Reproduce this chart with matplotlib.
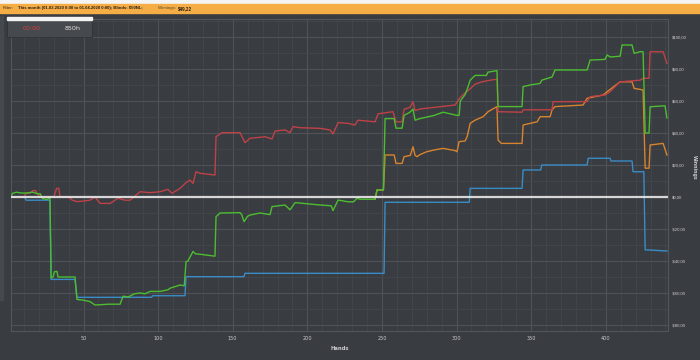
import matplotlib
matplotlib.use("Agg")
import matplotlib.pyplot as plt
from matplotlib.patches import Rectangle
from matplotlib.ticker import MultipleLocator

W, H = 700, 360

# net won (green)
green_hands = [1, 2.5, 5, 8, 12, 16, 19, 21, 22.5, 25.5, 26.5, 27.5, 28.3, 29.6, 30.5, 32.2, 32.9,
               44.3, 45.6, 50, 54.4, 57.7, 67, 74.5, 76.5, 80, 84, 87.9, 91.2, 94.6, 101.3, 106.6,
               108, 114.7, 117.5, 118.7, 120, 123.4, 125, 130, 138.1, 138.8, 141.5, 154.9, 156,
               157.6, 160, 161.6, 168.3, 175, 176.3, 185, 188.4, 191.8, 208.5, 216, 217.2, 220.6,
               227.3, 231, 233.3, 235.3, 245.4, 246.7, 251, 252.1, 258.2, 259.4, 263.5, 264.8,
               268.8, 270.8, 272.2, 275.5, 285, 291, 300.3, 301.7, 302.5, 305.7, 307, 309.1, 312.4,
               320, 321, 327.1, 327.8, 343.9, 344.6, 349.3, 356, 357.1, 364, 366, 387.5, 389.5,
               399.5, 400.9, 403, 409.6, 410.9, 417.6, 419, 423, 425, 426.4, 429, 429.7, 439.7, 441]
green_vals = [0, 2.3, 3, 2.5, 2.5, 3, 2, 2, -1, -1.5, -1, 0, -50.6, -50, -46.7, -46.5, -50,
              -50, -64, -64.5, -65.4, -67.5, -67, -67, -62, -62.5, -60.5, -60, -60.5, -59, -59, -58,
              -57, -55, -55.5, -40.4, -40, -34, -35.5, -36, -37, -12.3, -10, -9.8, -11,
              -15.4, -12, -11.3, -10, -11, -6, -5, -8, -3.5, -5, -5.5, -8.5, -1.9,
              -3, -3, -0.8, -1.4, -1.4, 4.4, 4.4, 49, 49, 43, 43, 51,
              53, 55, 48, 49, 51, 53, 51, 51, 60, 64, 67, 73, 76,
              76, 78, 79, 56.5, 56.5, 69, 70, 71, 73, 75, 79.4, 79.4, 85.6,
              86, 88.75, 87.5, 88, 95, 95, 89.8, 90.8, 90.8, 40, 40, 56.4, 57, 49.4]

# non-showdown (red)
red_hands = [1, 10, 11.5, 14, 16.2, 18, 18.8, 20.8, 30, 32, 33.5, 34.2, 40, 42.3, 45.6, 50, 54.4,
             57.7, 61.1, 67.8, 73.1, 77.8, 81.2, 87.9, 94.6, 101.3, 106.6, 109.3, 114.7, 118.7,
             121.4, 123.4, 125.4, 128.1, 138.1, 138.8, 142.8, 154.9, 158.2, 161.6, 168.3, 171.6,
             176.3, 178.4, 185, 188.4, 190.4, 195.1, 208.5, 215.2, 217.2, 220.6, 227.3, 231.9,
             233.9, 245.4, 247.4, 257.4, 259.4, 263.5, 264.8, 268.8, 270.8, 272.2, 275.5, 299,
             302.3, 305.7, 309.1, 312.4, 317.1, 322.5, 327.1, 327.8, 343.9, 344.6, 364, 364.7,
             387.5, 389.5, 399.5, 402.9, 409.6, 423, 425, 429, 429.7, 438.4, 441]
red_vals = [0, 0, 2.3, 2.5, 4, 4, 2.5, 0, 0, 5.4, 5.4, 0, 0, -1.9, -2.9, -2.5, -2,
            0, -4, -4, -0.8, -2, -2, 3.3, 2.7, 3.3, 4.8, 2.3, 5.4, 9,
            10.6, 8.5, 15.8, 14.8, 13.75, 37.7, 40.2, 40.2, 34, 36.7, 37.3, 37.7,
            36.25, 41.25, 41.9, 40.2, 44, 43.3, 42.9, 41.9, 39.4, 46.5, 46, 45,
            48, 47, 52, 53.3, 47, 47, 54.8, 56, 59.5, 54, 55, 57.5,
            62, 65, 67.6, 70.5, 72, 73, 73.6, 53.3, 53, 54.5, 54.5, 59.6,
            59.6, 62.7, 63.75, 65.8, 72, 73, 74.2, 74.2, 90.8, 90.8, 83.5]

# all-in adjusted (orange), hidden under green before hand 245
orange_hands = [245.4, 246.7, 251, 252.1, 258.2, 259.4, 263.5, 264.8, 269, 270.8, 272.2, 273.5,
                275.5, 280, 285, 291, 299, 300.3, 301.7, 305.7, 307.1, 309.1, 312.4, 317.8, 321.1,
                327.1, 327.8, 330, 343.9, 344.6, 349.3, 354, 356, 362.7, 364, 366, 384.8, 387.5,
                398.2, 400.9, 409.6, 417.6, 419, 425, 426.4, 429, 429.7, 438.4, 441]
orange_vals = [-1.4, 4.4, 4.4, 26.25, 26.25, 21, 21, 25.2, 26, 31.4, 26, 25.2,
               26.5, 28.3, 29.4, 30.4, 29, 28.3, 34.6, 35, 37.7, 46, 48, 50.2, 53.3,
               56.5, 35.6, 33.5, 33.5, 45, 46, 47, 50.2, 50.2, 54.4, 56.5, 57.5, 61.7,
               63.75, 65.8, 72, 72, 67.9, 66.9, 18, 18, 32.5, 33.5, 26.25]

# showdown (blue)
blue_hands = [1, 10.5, 11.5, 27.5, 28.3, 44.3, 45.6, 95.6, 96.3, 118, 118.7, 157.5, 158.2, 251.4,
              252.1, 308.5, 309.1, 343.9, 344.6, 356.4, 357.1, 387.5, 388.2, 402.9, 403.5, 417.6,
              418.3, 425.5, 426.4, 441]
blue_vals = [0, 0, -2, -2, -51.5, -51.5, -62.7, -62.7, -61.7, -61.7, -49.8, -49.8, -47.7, -47.7,
             -3.3, -3.3, 5.4, 5.4, 16.9, 16.9, 20, 20, 24.2, 24.2, 22.5, 22.5,
             15.8, 15.8, -33, -33.75]

y_ticks = [-80, -60, -40, -20, 0, 20, 40, 60, 80, 100]
y_labels = ["-$80,00", "-$60,00", "-$40,00", "-$20,00", "$0,00",
            "$20,00", "$40,00", "$60,00", "$80,00", "$100,00"]
x_ticks = [50, 100, 150, 200, 250, 300, 350, 400]

BG = "#393c41"
TXT = "#c9cacc"


def px(x, y):
    return x / W, 1 - y / H


fig = plt.figure(figsize=(7, 3.6), dpi=100, facecolor=BG)

# title strip and orange filter bar
fig.patches.append(Rectangle(px(0, 4), 1, 4 / H, transform=fig.transFigure, color="#f4f4f4", zorder=0))
fig.patches.append(Rectangle(px(0, 12.5), 1, 8.5 / H, transform=fig.transFigure, color="#f5ad45", zorder=0))
fig.patches.append(Rectangle(px(0, 300), 3 / W, 284 / H, transform=fig.transFigure, color="#45484d", zorder=0))

ax = fig.add_axes([11 / W, 1 - 331 / H, 657 / W, 312 / H])
ax.set_facecolor(BG)

ax.plot(blue_hands, blue_vals, color="#3a8cc6", lw=1.0, zorder=3)
ax.plot(orange_hands, orange_vals, color="#d8832e", lw=1.0, zorder=4)
ax.plot(red_hands, red_vals, color="#be4247", lw=1.0, zorder=5)
ax.plot(green_hands, green_vals, color="#4cbd30", lw=1.0, zorder=6)
ax.axhline(0, xmin=0, xmax=0.998, color="#e8e8e8", lw=1.6, alpha=0.9, zorder=7)

ax.set_xlim(1.4, 441.7)
ax.set_ylim(-83.75, 111.25)

ax.xaxis.set_major_locator(MultipleLocator(50))
ax.xaxis.set_minor_locator(MultipleLocator(10))
ax.yaxis.set_major_locator(MultipleLocator(20))
ax.yaxis.set_minor_locator(MultipleLocator(10))
ax.grid(which="major", color="#4f5358", lw=0.8, zorder=0)
ax.grid(which="minor", color="#43474c", lw=0.6, zorder=0)
ax.set_axisbelow(True)

ax.set_xticks(x_ticks)
ax.set_xticklabels([str(t) for t in x_ticks])
ax.set_yticks(y_ticks)
ax.set_yticklabels(y_labels)
ax.yaxis.tick_right()
ax.tick_params(which="both", length=0, colors=TXT, labelsize=3.6)
ax.tick_params(axis="x", pad=3.5)
ax.tick_params(axis="y", pad=2.5, labelsize=3.1)
for lbl in ax.get_yticklabels():
    lbl.set_family("Liberation Sans")

for s in ax.spines.values():
    s.set_color("#53575c")
    s.set_linewidth(0.8)

ax.set_xlabel("Hands", color=TXT, fontsize=3.8, fontweight="bold", labelpad=4)
fig.text(*px(694, 167), "Winnings", rotation=270, color=TXT, fontsize=3.3,
         fontweight="bold", ha="center", va="center")

# filter line
fy = 8.3
fig.text(*px(3, fy), "Filter:", fontsize=3.2, color="#3a3024", va="center", family="Liberation Sans")
fig.text(*px(18, fy), "This month (01.03.2020 0:00 to 01.04.2020 0:00); Blinds: $50NL;",
         fontsize=3.1, color="#2a2118", fontweight="bold", va="center", family="Liberation Sans")
fig.text(*px(158, fy), "Winnings:", fontsize=3.2, color="#5a4a30", va="center", family="Liberation Sans")
fig.text(*px(178, fy), "$49,22", fontsize=3.3, color="#2a2118", fontweight="bold", va="center",
         family="Liberation Sans")

# timer box
fig.patches.append(Rectangle(px(7, 37), 85 / W, 20 / H, transform=fig.transFigure,
                             facecolor="#46494e", edgecolor="#2f3236", lw=0.6, zorder=10))
fig.patches.append(Rectangle(px(7, 19.5), 85 / W, 2.6 / H, transform=fig.transFigure,
                             color="#f2f2f2", zorder=11))
fig.text(*px(31.5, 28.5), "00:00", color="#d8403f", fontsize=4.6, ha="center", va="center", zorder=12)
fig.text(*px(73, 28.5), "850h", color="#e0e0e0", fontsize=4.6, ha="center", va="center", zorder=12)

fig.savefig("out.png", dpi=100, facecolor=BG)
